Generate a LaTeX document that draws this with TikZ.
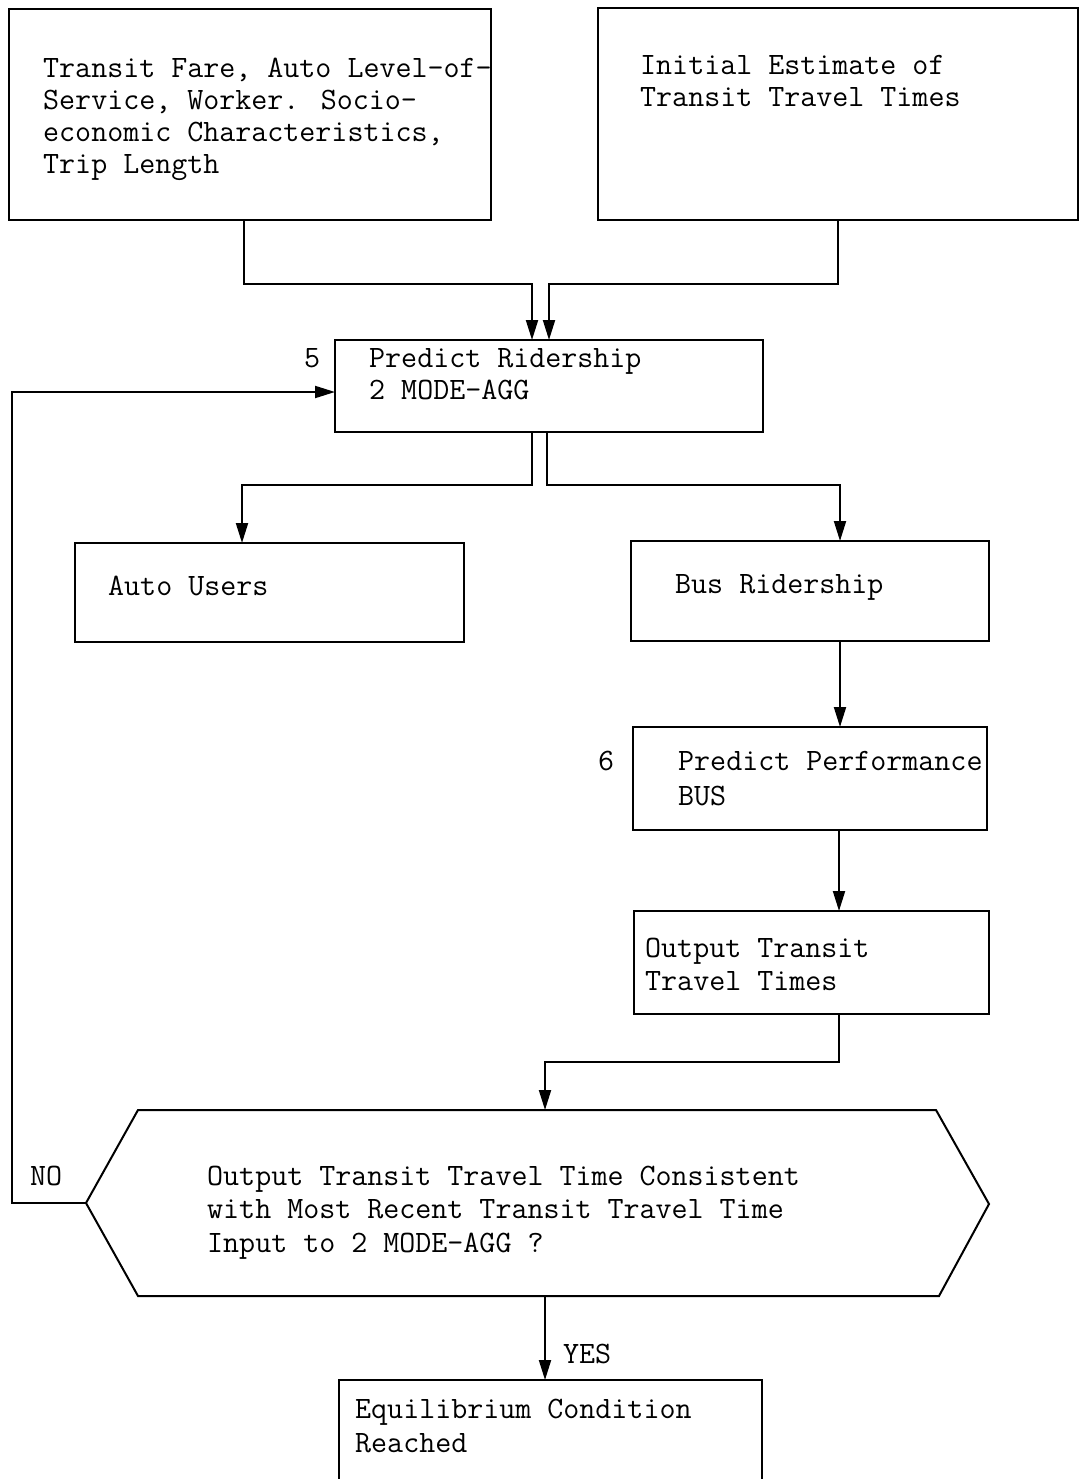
\documentclass[tikz,border=0pt]{standalone}
\usepackage{fontspec}
\usetikzlibrary{arrows.meta}
\begin{document}
\begin{tikzpicture}[x=1pt,y=-1pt,
  box/.style={draw,line width=2pt,inner sep=0pt,outer sep=0pt},
  txt/.style={anchor=base west,inner sep=0pt,font=\ttfamily\fontsize{31.1}{33}\selectfont\addfontfeatures{FakeBold=1.2}},
  line/.style={line width=2pt},
  arr/.style={line width=2pt,-{Triangle[length=20pt,width=12pt]}}]
\useasboundingbox (0,0) rectangle (1079,1479);

% process boxes
\node[box,minimum width=482pt,minimum height=211pt] (A)   at (250,114.5) {};
\node[box,minimum width=480pt,minimum height=212pt] (B)   at (838,114) {};
\node[box,minimum width=428pt,minimum height=92pt]  (C)   at (549,386) {};
\node[box,minimum width=389pt,minimum height=99pt]  (Au)  at (269.5,592.5) {};
\node[box,minimum width=358pt,minimum height=100pt] (Bus) at (810,591) {};
\node[box,minimum width=354pt,minimum height=103pt] (Pf)  at (810,778.5) {};
\node[box,minimum width=355pt,minimum height=103pt] (Out) at (811.5,962.5) {};
\node[box,minimum width=423pt,minimum height=140pt] (Eq)  at (550.5,1450) {};

% decision hexagon
\coordinate (hl) at (86,1203);
\coordinate (htl) at (138,1110);
\coordinate (htr) at (936,1110);
\coordinate (hr) at (989,1204);
\coordinate (hbr) at (939,1296);
\coordinate (hbl) at (138,1296);
\coordinate (ht) at (545,1110);
\coordinate (hb) at (545,1296);
\draw[line,line join=miter] (hl) -- (htl) -- (htr) -- (hr) -- (hbr) -- (hbl) -- cycle;

% texts
\node[txt] (a1) at (43,78)  {Transit Fare, Auto Level-of-};
\node[txt] (a2) at (43,110) {Service, Worker. Socio-};
\node[txt] (a3) at (43,142) {economic Characteristics,};
\node[txt] (a4) at (43,174) {Trip Length};
\node[txt] (b1) at (640,75)  {Initial Estimate of};
\node[txt] (b2) at (640,107) {Transit Travel Times};
\node[txt] (n5) at (304,367) {5};
\node[txt] (c1) at (369,367) {Predict Ridership};
\node[txt] (c2) at (369,399) {2 MODE-AGG};
\node[txt] (au) at (108,595) {Auto Users};
\node[txt] (bu) at (675,593) {Bus Ridership};
\node[txt] (n6) at (598,770) {6};
\node[txt] (p1) at (678,770) {Predict Performance};
\node[txt] (p2) at (678,805) {BUS};
\node[txt] (o1) at (645,957) {Output Transit};
\node[txt] (o2) at (645,990) {Travel Times};
\node[txt] (h1) at (207,1185) {Output Transit Travel Time Consistent};
\node[txt] (h2) at (207,1218) {with Most Recent Transit Travel Time};
\node[txt] (h3) at (207,1252) {Input to 2 MODE-AGG ?};
\node[txt] (no) at (30,1185) {NO};
\node[txt] (yes) at (563,1363) {YES};
\node[txt] (e1) at (355,1418) {Equilibrium Condition};
\node[txt] (e2) at (355,1452) {Reached};

% connectors
\draw[arr] (244,0 |- A.south) -- (244,284) -- (532,284) -- (532,0 |- C.north);
\draw[arr] (838,0 |- B.south) -- (838,284) -- (549,284) -- (549,0 |- C.north);
\draw[arr] (532,0 |- C.south) -- (532,485) -- (242,485) -- (242,0 |- Au.north);
\draw[arr] (547,0 |- C.south) -- (547,485) -- (840,485) -- (840,0 |- Bus.north);
\draw[arr] (840,0 |- Bus.south) -- (840,0 |- Pf.north);
\draw[arr] (839,0 |- Pf.south) -- (839,0 |- Out.north);
\draw[arr] (839,0 |- Out.south) -- (839,1062) -- (545,1062) -- (ht);
\draw[arr] (hb) -- (545,0 |- Eq.north);
\draw[arr] (hl) -- (12,1203) -- (12,392) -- (C.west |- 0,392);
\end{tikzpicture}
\end{document}
